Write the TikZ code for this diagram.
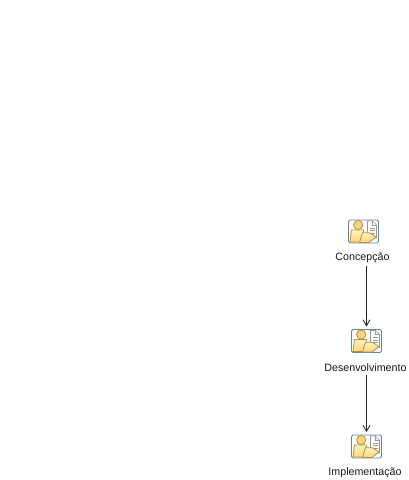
\documentclass[tikz,border=0pt]{standalone}
\usepackage{fontspec}
\setmainfont{Liberation Sans}
\usetikzlibrary{arrows.meta}
\definecolor{frameblue}{HTML}{5F86A8}
\definecolor{goldline}{HTML}{B8923A}
\definecolor{goldfill}{HTML}{F9D67E}
\definecolor{goldpale}{HTML}{FFF0BE}
\definecolor{docline}{HTML}{9A9A8C}
\tikzset{
  x=1pt,y=-1pt,
  iconbox/.style={minimum width=30pt,minimum height=23pt,inner sep=0pt,outer sep=0pt,anchor=north west},
  steplabel/.style={font=\fontsize{10.7}{13}\selectfont,inner sep=0pt,text=black!90},
  flowline/.style={draw=black!85,line width=0.8pt,shorten <=2.5pt,shorten >=3pt,-{Straight Barb[length=6pt,width=7pt,line width=0.8pt]}},
  pics/stepicon/.style={code={
    \draw[frameblue,fill=white,line width=0.9pt,rounded corners=1.5pt] (0,0) rectangle (30,23);
    \draw[docline,fill=white,line width=0.7pt] (19,1) -- (24,1) -- (28,5) -- (28,18) -- (19,18) -- cycle;
    \draw[docline,line width=0.6pt] (24,1) -- (24,5) -- (28,5);
    \foreach \ly in {8,10.5,13}{\draw[docline,line width=0.6pt] (21,\ly) -- (26,\ly);}
    \draw[goldline,top color=goldpale,bottom color=goldfill,line width=0.8pt] (3,10) -- (15,10) -- (16,22) -- (1.5,22) -- cycle;
    \draw[goldline,top color=goldpale,bottom color=goldfill,line width=0.8pt] (14,12.7) -- (21,12.7) -- (27.5,17) -- (20.5,22.5) -- (11,22.5) -- cycle;
    \draw[goldline,fill=goldfill,line width=0.8pt] (9.7,5) circle (4.6);
  }}
}
\begin{document}
\begin{tikzpicture}
\useasboundingbox (0,0) rectangle (409,480);
\fill[white] (0,0) rectangle (409,480);
\pic at (348.5,220) {stepicon};
\pic at (351.5,329.5) {stepicon};
\pic at (351.5,435) {stepicon};
\node[iconbox] (icona) at (348.5,220) {};
\node[iconbox] (iconb) at (351.5,329.5) {};
\node[iconbox] (iconc) at (351.5,435) {};
\node[steplabel] (laba) at (362.5,258) {Concepção};
\node[steplabel] (labb) at (365.5,368) {Desenvolvimento};
\node[steplabel] (labc) at (365,473) {Implementação};
\draw[flowline] (laba.south -| iconb.north) -- (iconb.north);
\draw[flowline] (labb.south -| iconc.north) -- (iconc.north);
\end{tikzpicture}
\end{document}
